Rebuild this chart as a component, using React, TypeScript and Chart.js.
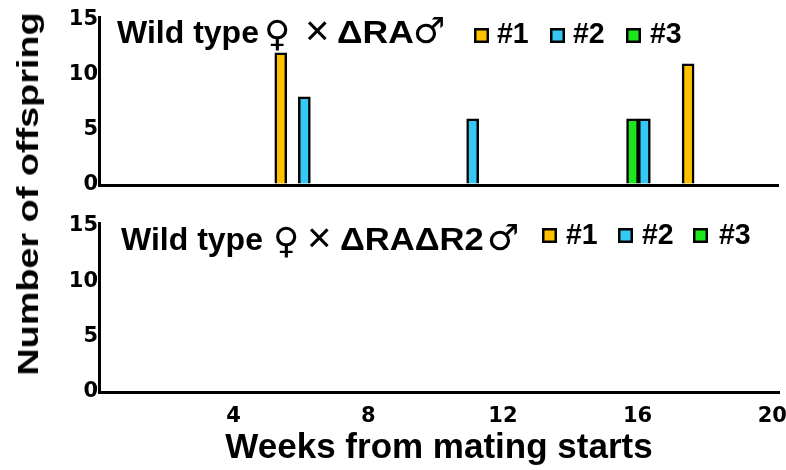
import React, { useEffect, useRef } from "react";
import { Chart, registerables } from "chart.js";

Chart.register(...registerables);

// ---- data ----
const seriesLabels = ["#1", "#2", "#3"];
const seriesColors = ["#FFC000", "#35C8F5", "#1EE61E"];

// Wild type ♀ × ΔRA ♂ (weeks from mating start, offspring count)
const ra1Weeks = [5.4, 17.5];
const ra1Counts = [12, 11];
const ra2Weeks = [6.1, 11.1, 16.2];
const ra2Counts = [8, 6, 6];
const ra3Weeks = [15.85];
const ra3Counts = [6];

// Wild type ♀ × ΔRAΔR2 ♂ : no offspring
const rar1Weeks: number[] = [];
const rar1Counts: number[] = [];
const rar2Weeks: number[] = [];
const rar2Counts: number[] = [];
const rar3Weeks: number[] = [];
const rar3Counts: number[] = [];

const xTickValues = [4, 8, 12, 16, 20];
const yTickValues = [0, 5, 10, 15];

const topTitle = ["Wild type", "♀", "×", "ΔRA", "♂"];
const bottomTitle = ["Wild type", "♀", "×", "ΔRAΔR2", "♂"];
const xAxisTitle = "Weeks from mating starts";
const yAxisTitle = "Number of offspring";

const FAMILY = '"Liberation Sans", Arial, sans-serif';
const TICK_FAMILY = '"DejaVu Sans", sans-serif';

function toPoints(xs: number[], ys: number[]) {
  return xs.map((x, i) => ({ x, y: ys[i] }));
}

const headerPlugin = {
  id: "panelHeader",
  afterDraw(chart: any, _args: any, opts: any) {
    if (!opts || !opts.segments) return;
    const ctx = chart.ctx;
    ctx.save();
    ctx.fillStyle = "#000";
    ctx.textBaseline = "alphabetic";
    ctx.textAlign = "left";
    opts.segments.forEach((s: any) => {
      ctx.save();
      ctx.font = s.font;
      ctx.translate(s.x, opts.baseline + (s.dy || 0));
      ctx.scale(s.sx || 1, 1);
      ctx.fillText(s.text, 0, 0);
      ctx.restore();
    });
    opts.legend.forEach((l: any) => {
      ctx.fillStyle = l.color;
      ctx.fillRect(l.boxX, opts.boxY, 15, 15);
      ctx.strokeStyle = "#000";
      ctx.lineWidth = 2.5;
      ctx.strokeRect(l.boxX + 1.25, opts.boxY + 1.25, 12.5, 12.5);
      ctx.fillStyle = "#000";
      ctx.save();
      ctx.font = `bold 30px ${FAMILY}`;
      ctx.translate(l.textX, opts.legendBaseline);
      ctx.scale(0.95, 1);
      ctx.fillText(l.text, 0, 0);
      ctx.restore();
    });
    ctx.restore();
  },
};

function makeDatasets(groups: { x: number[]; y: number[] }[]) {
  return groups.map((g, i) => ({
    label: seriesLabels[i],
    data: toPoints(g.x, g.y),
    backgroundColor: seriesColors[i],
    borderColor: "#000",
    borderWidth: 2.5,
    barThickness: 12,
    grouped: false,
  }));
}

function yScale() {
  return {
    min: 0,
    max: 15.25,
    afterBuildTicks: (s: any) => {
      s.ticks = yTickValues.map((v) => ({ value: v }));
    },
    afterFit: (s: any) => {
      s.width = 99;
      s.paddingTop = 0;
      s.paddingBottom = 0;
    },
    ticks: {
      color: "#000",
      padding: 1,
      font: { family: TICK_FAMILY, size: 21, weight: "bold" },
    },
    grid: {
      drawTicks: false,
      color: (c: any) => (c.tick && c.tick.value === 0 ? "#000" : "rgba(0,0,0,0)"),
      lineWidth: 3,
    },
    border: { color: "#000", width: 3 },
  };
}

const boldTitle = `bold 32px ${FAMILY}`;
const symFont = `36px "DejaVu Sans", sans-serif`;
const timesFont = `42px ${FAMILY}`;

export default function App() {
  const topRef = useRef<HTMLCanvasElement>(null);
  const botRef = useRef<HTMLCanvasElement>(null);

  useEffect(() => {
    const top = new Chart(topRef.current as HTMLCanvasElement, {
      type: "bar",
      data: {
        datasets: makeDatasets([
          { x: ra1Weeks, y: ra1Counts },
          { x: ra2Weeks, y: ra2Counts },
          { x: ra3Weeks, y: ra3Counts },
        ]) as any,
      },
      options: {
        animation: false,
        responsive: false,
        maintainAspectRatio: false,
        layout: { padding: { top: 17, right: 7, left: 0, bottom: 15 } },
        plugins: {
          legend: { display: false },
          tooltip: { enabled: false },
          panelHeader: {
            baseline: 43,
            segments: [
              { text: topTitle[0], x: 117, font: boldTitle },
              { text: topTitle[1], x: 264, font: symFont, dy: 3 },
              { text: topTitle[2], x: 305, font: timesFont, dy: 2 },
              { text: topTitle[3], x: 337, font: boldTitle, sx: 1.11 },
              { text: topTitle[4], x: 413, font: symFont },
            ],
            boxY: 28,
            legendBaseline: 43,
            legend: [
              { boxX: 474, textX: 497, text: seriesLabels[0], color: seriesColors[0] },
              { boxX: 550, textX: 573, text: seriesLabels[1], color: seriesColors[1] },
              { boxX: 626, textX: 650, text: seriesLabels[2], color: seriesColors[2] },
            ],
          },
        } as any,
        scales: {
          x: { type: "linear", min: 0, max: 20.2, offset: false, display: false },
          y: yScale() as any,
        },
      },
      plugins: [headerPlugin],
    });

    const bot = new Chart(botRef.current as HTMLCanvasElement, {
      type: "bar",
      data: {
        datasets: makeDatasets([
          { x: rar1Weeks, y: rar1Counts },
          { x: rar2Weeks, y: rar2Counts },
          { x: rar3Weeks, y: rar3Counts },
        ]) as any,
      },
      options: {
        animation: false,
        responsive: false,
        maintainAspectRatio: false,
        layout: { padding: { top: 23, right: 7, left: 0, bottom: 0 } },
        plugins: {
          legend: { display: false },
          tooltip: { enabled: false },
          panelHeader: {
            baseline: 50,
            segments: [
              { text: bottomTitle[0], x: 121, font: boldTitle },
              { text: bottomTitle[1], x: 273, font: symFont, dy: 3 },
              { text: bottomTitle[2], x: 307, font: timesFont, dy: 2 },
              { text: bottomTitle[3], x: 340, font: boldTitle, sx: 1.08 },
              { text: bottomTitle[4], x: 487, font: symFont },
            ],
            boxY: 28,
            legendBaseline: 44,
            legend: [
              { boxX: 542, textX: 566, text: seriesLabels[0], color: seriesColors[0] },
              { boxX: 618, textX: 642, text: seriesLabels[1], color: seriesColors[1] },
              { boxX: 693, textX: 719, text: seriesLabels[2], color: seriesColors[2] },
            ],
          },
        } as any,
        scales: {
          x: {
            type: "linear",
            min: 0,
            max: 20.2,
            offset: false,
            afterBuildTicks: (s: any) => {
              s.ticks = xTickValues.map((v) => ({ value: v }));
            },
            afterFit: (s: any) => {
              s.height = 78;
              s.paddingLeft = 0;
              s.paddingRight = 0;
            },
            ticks: {
              color: "#000",
              padding: 12,
              maxRotation: 0,
              font: { family: TICK_FAMILY, size: 21, weight: "bold" },
            },
            grid: { drawTicks: false, color: "rgba(0,0,0,0)" },
            border: { color: "#000", width: 3 },
            title: {
              display: true,
              text: xAxisTitle,
              color: "#000",
              font: { family: FAMILY, size: 35, weight: "bold" },
              padding: { top: 0, bottom: 1 },
            },
          } as any,
          y: yScale() as any,
        },
      },
      plugins: [headerPlugin],
    });

    return () => {
      top.destroy();
      bot.destroy();
    };
  }, []);

  return (
    <div style={{ position: "absolute", left: 0, top: 0, width: 786, height: 470, background: "#fff" }}>
      <canvas
        ref={topRef}
        width={786}
        height={200}
        style={{ position: "absolute", left: 0, top: 0, width: 786, height: 200 }}
      />
      <canvas
        ref={botRef}
        width={786}
        height={270}
        style={{ position: "absolute", left: 0, top: 200, width: 786, height: 270 }}
      />
      <div
        style={{
          position: "absolute",
          left: 28,
          top: 194,
          transform: "translate(-50%, -50%) rotate(-90deg) scaleX(1.26)",
          whiteSpace: "nowrap",
          fontFamily: FAMILY,
          fontWeight: "bold",
          fontSize: 30,
          lineHeight: "30px",
          color: "#000",
        }}
      >
        {yAxisTitle}
      </div>
    </div>
  );
}
